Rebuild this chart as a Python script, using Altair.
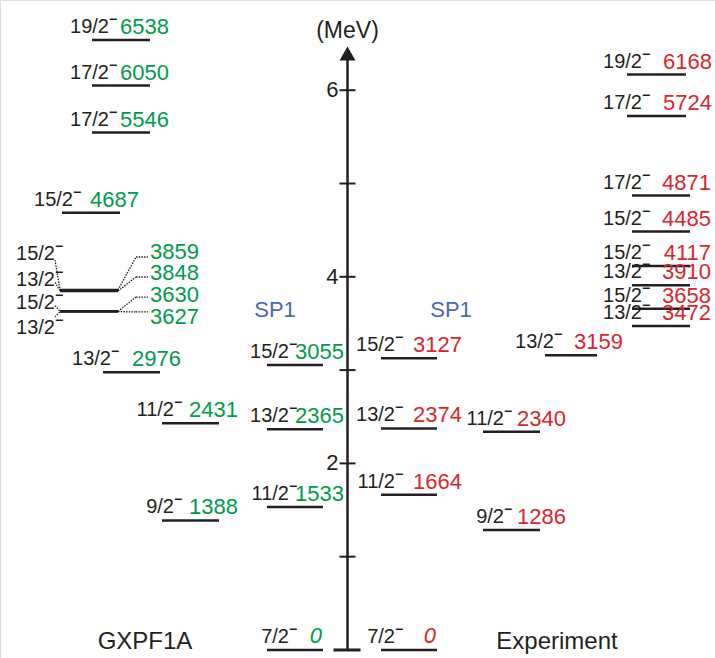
import altair as alt
import pandas as pd

# ---------------- data ----------------
gx_energy = [0, 1533, 2365, 3055, 1388, 2431, 2976, 3627, 3630, 3848, 3859, 4687, 5546, 6050, 6538]
gx_spin = ["7/2", "11/2", "13/2", "15/2", "9/2", "11/2", "13/2", "13/2", "15/2", "13/2", "15/2",
           "15/2", "17/2", "17/2", "19/2"]
gx_column = ["A", "A", "A", "A", "B", "B", "B2", "C", "C", "C", "C", "D", "E", "E", "E"]

exp_energy = [0, 1664, 2374, 3127, 1286, 2340, 3159, 3472, 3658, 3910, 4117, 4485, 4871, 5724, 6168]
exp_spin = ["7/2", "11/2", "13/2", "15/2", "9/2", "11/2", "13/2", "13/2", "15/2", "13/2", "15/2",
            "15/2", "17/2", "17/2", "19/2"]
exp_column = ["F", "F", "F", "F", "G", "G", "H", "I", "I", "I", "I", "I", "I", "J", "J"]

axis_ticks_mev = [0, 1, 2, 3, 4, 5, 6]
axis_labels_mev = [2, 4, 6]
axis_title = "(MeV)"
panel_titles = ["GXPF1A", "Experiment"]
band_label = "SP1"
parity = "\u2212"

# ---------------- layout (positions / styles) ----------------
W, H = 715, 658
E_MIN, E_MAX = -86, 6967
AXIS_X = 347.5
COLS = {
    "A": dict(x0=267, x1=323, sx=296, ex=344),
    "B": dict(x0=162, x1=219, sx=181, ex=238),
    "B2": dict(x0=103, x1=160, sx=118, ex=181),
    "C": dict(x0=60, x1=118, sx=62, ex=150),
    "D": dict(x0=62, x1=120, sx=80, ex=139),
    "E": dict(x0=92, x1=150, sx=116, ex=169),
    "F": dict(x0=381, x1=437, sx=402, ex=462),
    "G": dict(x0=483, x1=540, sx=511, ex=566),
    "H": dict(x0=545, x1=597, sx=561, ex=623),
    "I": dict(x0=632, x1=690, sx=649, ex=711),
    "J": dict(x0=627, x1=686, sx=649, ex=712),
}
MINUS_W = 7
C_SPIN_AT = {3859: 4255, 3848: 3976, 3630: 3730, 3627: 3462}
C_ENERGY_AT = {3859: 4266, 3848: 4041, 3630: 3805, 3627: 3569}
C_RIGHT_KNEE = {3859: 4212, 3848: 3998, 3630: 3783, 3627: 3623}
C_LEFT_START = {3859: 4180, 3848: 3940, 3630: 3690, 3627: 3570}
ARROW_E = 6394
MEV_TITLE_E = 6634
TITLE_E = 85
SP1_E = 3644
TITLE_X = {"GXPF1A": 145, "Experiment": 557}
SP1_X = [275, 451]

GREEN = "#009B4A"
RED = "#D8262B"
BLUE = "#4A68B5"
INK = "#231F20"
FONT = "Liberation Sans"

# ---------------- tables ----------------
rows = []
for model, es, ss, cs in [("GXPF1A", gx_energy, gx_spin, gx_column),
                          ("Experiment", exp_energy, exp_spin, exp_column)]:
    for e, s, c in zip(es, ss, cs):
        col = COLS[c]
        rows.append(dict(model=model, E=e, spin=s, minus=parity, col=c,
                         x0=col["x0"], x1=col["x1"],
                         sx=col["sx"] - MINUS_W, mx=col["sx"] - MINUS_W,
                         ex=(col["x1"] - 1 if e == 0 else col["ex"]),
                         label=str(e)))
levels = pd.DataFrame(rows)
normal = levels[levels["col"] != "C"]
crowd = levels[levels["col"] == "C"].copy()
crowd["spinE"] = crowd["E"].map(C_SPIN_AT)
crowd["enE"] = crowd["E"].map(C_ENERGY_AT)

seg = []
for e in crowd["E"]:
    x0, x1 = COLS["C"]["x0"], COLS["C"]["x1"]
    knee = C_RIGHT_KNEE[e]
    seg.append(dict(x=x1, y=e, x2=x1 + 18, y2=knee))
    seg.append(dict(x=x1 + 18, y=knee, x2=COLS["C"]["ex"] - 2, y2=knee))
    seg.append(dict(x=x0 - 5, y=C_LEFT_START[e], x2=x0, y2=e))
segs = pd.DataFrame(seg)

ticks = pd.DataFrame({"E": [t * 1000 for t in axis_ticks_mev if t > 0]})
base0 = pd.DataFrame({"E": [0]})
tlabels = pd.DataFrame({"E": [t * 1000 for t in axis_labels_mev], "t": [str(t) for t in axis_labels_mev]})
axis_df = pd.DataFrame({"y": [0], "y2": [ARROW_E - 10]})
arrow_df = pd.DataFrame({"E": [ARROW_E]})
titles = pd.DataFrame({"t": panel_titles, "x": [TITLE_X[t] for t in panel_titles], "E": [TITLE_E] * 2})
sp1 = pd.DataFrame({"t": [band_label] * 2, "x": SP1_X, "E": [SP1_E] * 2})
mev = pd.DataFrame({"t": [axis_title], "E": [MEV_TITLE_E]})

xs = alt.Scale(domain=[0, W], nice=False, zero=False)
ys = alt.Scale(domain=[E_MIN, E_MAX], nice=False, zero=False)
cscale = alt.Scale(domain=["GXPF1A", "Experiment"], range=[GREEN, RED])


def X(f):
    return alt.X(f, type="quantitative", scale=xs, axis=None)


def Y(f):
    return alt.Y(f, type="quantitative", scale=ys, axis=None)


level_lines = alt.Chart(levels).mark_rule(color=INK, strokeWidth=2.5).encode(
    x=X("x0"), x2="x1", y=Y("E"))

spin_txt = alt.Chart(normal).mark_text(align="right", baseline="alphabetic", dy=-7,
                                       font=FONT, fontSize=20, color=INK).encode(
    x=X("sx"), y=Y("E"), text="spin:N")

spin_minus = alt.Chart(normal).mark_text(align="left", baseline="alphabetic", dy=-16, dx=0,
                                         font=FONT, fontSize=14, fontWeight="bold", color=INK).encode(
    x=X("mx"), y=Y("E"), text="minus:N")

en_txt = alt.Chart(normal[normal["E"] != 0]).mark_text(
    align="right", baseline="alphabetic", dy=-6, font=FONT, fontSize=22).encode(
    x=X("ex"), y=Y("E"), text="label:N", color=alt.Color("model:N", scale=cscale, legend=None))

zero_txt = alt.Chart(normal[normal["E"] == 0]).mark_text(
    align="right", baseline="alphabetic", dy=-7, font=FONT, fontSize=22, fontStyle="italic").encode(
    x=X("ex"), y=Y("E"), text="label:N", color=alt.Color("model:N", scale=cscale, legend=None))

crowd_spin = alt.Chart(crowd).mark_text(align="right", baseline="alphabetic", dy=7, font=FONT,
                                        fontSize=20, color=INK).encode(
    x=X("sx"), y=Y("spinE"), text="spin:N")

crowd_minus = alt.Chart(crowd).mark_text(align="left", baseline="alphabetic", dy=-2, font=FONT,
                                         fontSize=14, fontWeight="bold", color=INK).encode(
    x=X("mx"), y=Y("spinE"), text="minus:N")

crowd_en = alt.Chart(crowd).mark_text(align="left", baseline="middle", font=FONT,
                                      fontSize=22, color=GREEN).encode(
    x=X("ex"), y=Y("enE"), text="label:N")

connectors = alt.Chart(segs).mark_rule(color=INK, strokeWidth=1.3, strokeDash=[1.5, 1.2]).encode(
    x=X("x"), y=Y("y"), x2="x2", y2="y2")

axis_line = alt.Chart(axis_df).mark_rule(color=INK, strokeWidth=2.5).encode(
    x=alt.value(AXIS_X), y=Y("y"), y2="y2")

arrow = alt.Chart(arrow_df).mark_point(shape="triangle-up", filled=True, size=256, color=INK,
                                       opacity=1).encode(x=alt.value(AXIS_X), y=Y("E"))

tick_marks = alt.Chart(ticks).mark_rule(color=INK, strokeWidth=2).encode(
    x=alt.value(AXIS_X - 8), x2=alt.value(AXIS_X + 8), y=Y("E"))

base_mark = alt.Chart(base0).mark_rule(color=INK, strokeWidth=3).encode(
    x=alt.value(AXIS_X - 14), x2=alt.value(AXIS_X + 13), y=Y("E"))

tick_txt = alt.Chart(tlabels).mark_text(align="right", baseline="middle", font=FONT, fontSize=22,
                                        color=INK).encode(
    x=alt.value(AXIS_X - 9), y=Y("E"), text="t:N")

mev_txt = alt.Chart(mev).mark_text(align="center", baseline="middle", font=FONT, fontSize=23,
                                   color=INK).encode(x=alt.value(AXIS_X), y=Y("E"), text="t:N")

title_txt = alt.Chart(titles).mark_text(align="center", baseline="middle", font=FONT, fontSize=24,
                                        color=INK).encode(x=X("x"), y=Y("E"), text="t:N")

sp1_txt = alt.Chart(sp1).mark_text(align="center", baseline="middle", font=FONT, fontSize=22,
                                   color=BLUE).encode(x=X("x"), y=Y("E"), text="t:N")

chart = alt.layer(
    level_lines, connectors, axis_line, arrow, tick_marks, base_mark, tick_txt, mev_txt,
    spin_txt, spin_minus, en_txt, zero_txt, crowd_spin, crowd_minus, crowd_en, title_txt, sp1_txt
).properties(width=W, height=H, padding=0, autosize=alt.AutoSizeParams(type="none")
).configure_view(stroke=None).configure(background="white")

chart.save("out.html", embed_options={"renderer": "svg", "actions": False})
